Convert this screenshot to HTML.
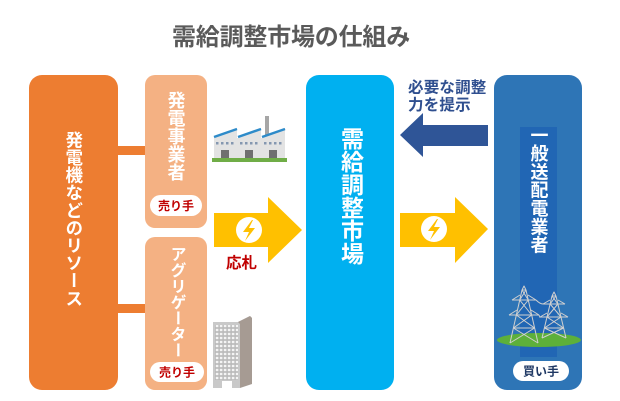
<!DOCTYPE html>
<html><head><meta charset="utf-8">
<style>
html,body{margin:0;padding:0;background:#fff;}
#c{position:relative;width:620px;height:401px;overflow:hidden;background:#fff;font-family:"Liberation Sans","Noto Sans CJK JP",sans-serif;}
svg{position:absolute;left:0;top:0;}
.v{position:absolute;writing-mode:vertical-rl;text-orientation:mixed;font-weight:bold;color:#fff;white-space:nowrap;font-family:"Liberation Sans","Noto Sans CJK JP",sans-serif;}
</style></head>
<body><div id="c">
<svg width="620" height="401" viewBox="0 0 620 401" xmlns="http://www.w3.org/2000/svg" font-family="Liberation Sans, Noto Sans CJK JP, sans-serif">
  <defs>
    <pattern id="win" x="215" y="324" width="4" height="4" patternUnits="userSpaceOnUse">
      <rect x="0" y="0" width="4" height="4" fill="#b9b9b9"/>
      <rect x="0.8" y="0.8" width="2.6" height="2.4" fill="#f4f4f4"/>
    </pattern>
  </defs>
  <!-- title -->
  <text x="172" y="45" font-size="24" font-weight="bold" fill="#5a5a5a" letter-spacing="-0.2">需給調整市場の仕組み</text>

  <!-- connectors -->
  <rect x="115" y="146" width="32" height="9" fill="#ED7D31"/>
  <rect x="115" y="304" width="32" height="9" fill="#ED7D31"/>

  <!-- left big box -->
  <rect x="29" y="75" width="89" height="315" rx="13" fill="#ED7D31"/>
  <!-- light boxes -->
  <rect x="145" y="75" width="62" height="153" rx="10" fill="#F4B183"/>
  <rect x="145" y="237" width="62" height="153" rx="10" fill="#F4B183"/>
  <!-- pills -->
  <rect x="150" y="195" width="52" height="21" rx="10.5" fill="#fff"/>
  <text x="176" y="210" font-size="12" font-weight="bold" fill="#C00000" text-anchor="middle">売り手</text>
  <rect x="150" y="362" width="54" height="20" rx="10" fill="#fff"/>
  <text x="177" y="376.5" font-size="12" font-weight="bold" fill="#C00000" text-anchor="middle">売り手</text>

  <!-- factory -->
  <rect x="212" y="158" width="75" height="4" fill="#70AD47"/>
  <rect x="265" y="116" width="4" height="20" fill="#A6A6A6"/>
  <polygon points="214,158 214,138 237,130 237,138 238,138 261,130 261,138 262,138 285,130 285,158" fill="#E3E3E3"/>
  <polyline points="214,137 237,129" stroke="#2E8BC9" stroke-width="2.5" fill="none"/>
  <polyline points="238,137 261,129" stroke="#2E8BC9" stroke-width="2.5" fill="none"/>
  <polyline points="262,137 285,129" stroke="#2E8BC9" stroke-width="2.5" fill="none"/>
  <g fill="#8497B0">
    <rect x="216" y="142" width="2.5" height="2.5"/><rect x="221" y="142" width="2.5" height="2.5"/><rect x="226" y="142" width="2.5" height="2.5"/><rect x="231" y="142" width="2.5" height="2.5"/>
    <rect x="240" y="142" width="2.5" height="2.5"/><rect x="245" y="142" width="2.5" height="2.5"/><rect x="250" y="142" width="2.5" height="2.5"/><rect x="255" y="142" width="2.5" height="2.5"/>
    <rect x="264" y="142" width="2.5" height="2.5"/><rect x="269" y="142" width="2.5" height="2.5"/><rect x="274" y="142" width="2.5" height="2.5"/><rect x="279" y="142" width="2.5" height="2.5"/>
  </g>
  <g fill="#6F6F6F">
    <rect x="221" y="150" width="8" height="8"/><rect x="245" y="150" width="8" height="8"/><rect x="269" y="150" width="8" height="8"/>
  </g>

  <!-- building -->
  <polygon points="213,322 238,322 250,316 252,318 240,324 240,388 213,388" fill="#C9C9C9"/>
  <polygon points="238,322 250,316 252,318 252,384 240,388 240,324" fill="#A69B93"/>
  <rect x="215" y="325" width="23" height="55" fill="url(#win)"/>
  <rect x="222" y="381" width="10" height="7" fill="#fff"/>

  <!-- yellow arrow 1 -->
  <polygon points="214,213 268,213 268,197 302,230 268,263 268,247 214,247" fill="#FFC000"/>
  <circle cx="249" cy="230" r="13" fill="#fff"/>
  <polygon points="252,220 243,232 249,232 245,241 255,228 249,228 253,220" fill="#FFC000"/>
  <text x="226" y="268" font-size="15.5" font-weight="bold" fill="#C00000">応札</text>

  <!-- center box -->
  <rect x="306" y="75" width="88" height="315" rx="13" fill="#00B0F0"/>

  <!-- yellow arrow 2 -->
  <polygon points="400,213 455,213 455,197 488,229 455,263 455,247 400,247" fill="#FFC000"/>
  <circle cx="434" cy="229" r="13" fill="#fff"/>
  <polygon points="437,219 428,231 434,231 430,240 440,227 434,227 438,219" fill="#FFC000"/>

  <!-- blue left arrow -->
  <polygon points="488,125 423,125 423,113 400,135 423,157 423,146 488,146" fill="#2F5597"/>
  <text x="408" y="92.5" font-size="15.5" font-weight="bold" fill="#2F4F8F" letter-spacing="0.2">必要な調整</text>
  <text x="408" y="110" font-size="15.5" font-weight="bold" fill="#2F4F8F" letter-spacing="0.2">力を提示</text>

  <!-- right box -->
  <rect x="494" y="75" width="88" height="315" rx="13" fill="#2E75B6"/>
  <rect x="520" y="127" width="37" height="230" fill="#2166B4"/>
  <!-- ground -->
  <ellipse cx="539" cy="340" rx="42" ry="7" fill="#5DB03A"/>
  <!-- towers -->
  <g stroke="#D0D0D0" stroke-width="1" fill="none" stroke-linejoin="round">
    <!-- left tower -->
    <path d="M522,290 L524,286 L526,290 M522,290 L510,343 M526,290 L538,343 M522,290 L526,290"/>
    <path d="M512,300 L536,300 M512,300 L520,295 M536,300 L528,295"/>
    <path d="M509,315 L539,315 M509,315 L517,310 M539,315 L531,310"/>
    <path d="M513.4,328 L534.6,328"/>
    <path d="M519.7,300 L531.7,315 M528.3,300 L516.3,315 M516.3,315 L534.6,328 M531.7,315 L513.4,328 M513.4,328 L538,343 M534.6,328 L510,343 M522,290 L528.3,300 M526,290 L519.7,300"/>
    <!-- right tower -->
    <path d="M552,296 L554,292 L556,296 M552,296 L542,338 M556,296 L566,338 M552,296 L556,296"/>
    <path d="M543,304 L565,304 M543,304 L550,300 M565,304 L558,300"/>
    <path d="M540,317 L568,317 M540,317 L547,313 M568,317 L561,313"/>
    <path d="M544.4,328 L563.6,328"/>
    <path d="M550.1,304 L561,317 M557.9,304 L547,317 M547,317 L563.6,328 M561,317 L544.4,328 M544.4,328 L566,338 M563.6,328 L542,338 M552,296 L557.9,304 M556,296 L550.1,304"/>
    <!-- wires -->
    <path d="M536,300 Q540,304 543,304 M539,315 Q540,318 540,317"/>
  </g>
  <rect x="513" y="361" width="56" height="20" rx="10" fill="#fff"/>
  <text x="541" y="375.5" font-size="12" font-weight="bold" fill="#1F3864" text-anchor="middle">買い手</text>
</svg>

<div class="v" style="left:64.25px;top:131px;font-size:17.5px;line-height:17.5px;letter-spacing:0.1px;">発電機などのリソース</div>
<div class="v" style="left:166.5px;top:91px;font-size:18px;line-height:18px;">発電事業者</div>
<div class="v" style="left:167.5px;top:246px;font-size:16px;line-height:16px;">アグリゲーター</div>
<div class="v" style="left:338.5px;top:127px;font-size:23px;line-height:23px;">需給調整市場</div>
<div class="v" style="left:529.5px;top:126px;font-size:18px;line-height:18px;letter-spacing:0.3px;">一般送配電業者</div>
</div></body></html>
